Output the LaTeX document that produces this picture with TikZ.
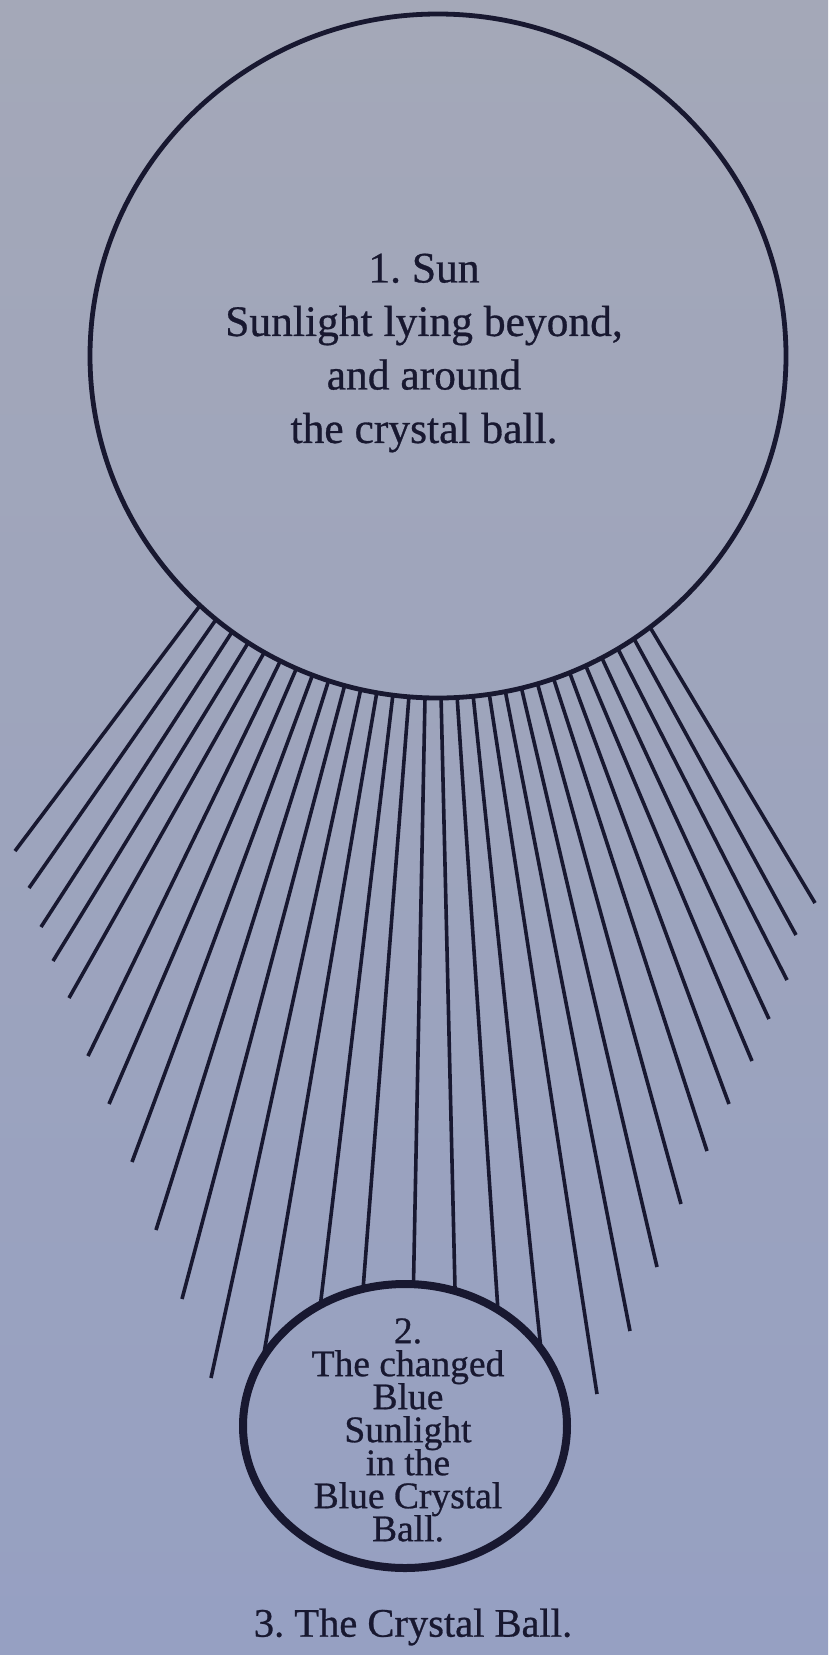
\documentclass[tikz,border=0pt]{standalone}
\usepackage{fontspec}
\setmainfont{Liberation Serif}
\newfontfamily\inkfont{Liberation Serif}[FakeBold=0.7]
\definecolor{bgtop}{RGB}{164,168,184}
\definecolor{bgbot}{RGB}{150,160,194}
\definecolor{ink}{RGB}{24,24,48}
\begin{document}
\frenchspacing
\begin{tikzpicture}[x=1pt,y=-1pt,line cap=butt,
  ray/.style={draw=ink,line width=3.6pt},
  bigball/.style={draw=ink,line width=4.8pt},
  smallball/.style={draw=ink,line width=8pt},
  lbl/.style={text=ink,align=center,inner sep=0pt}]
\shade[top color=bgtop,bottom color=bgbot] (0,0) rectangle (828,1655);
\useasboundingbox (0,0) rectangle (828,1655);
% free rays
\foreach \i/\bx/\by in {0/15/851,1/29/888,2/41/927,3/53/961,4/69/998,5/88/1056,
  6/109/1104,7/132/1162,8/156/1230,9/182/1299,10/211/1378,
  18/597/1394,19/630/1331,20/657/1267,21/681/1204,22/707/1151,23/729/1104,
  24/752/1061,25/769/1019,26/787/980,27/796/935,28/815/903} {
  \pgfmathsetmacro\tx{200+450/28*\i}
  \pgfmathsetmacro\tu{(\tx-438)/348}
  \pgfmathsetmacro\ty{356+342*sqrt(1-\tu*\tu)}
  \draw[ray] (\tx,\ty) -- (\bx,\by);
}
% rays meeting the small ball
\foreach \i/\ph in {11/151,12/121.5,13/105,14/87,15/72,16/55,17/33} {
  \pgfmathsetmacro\tx{200+450/28*\i}
  \pgfmathsetmacro\tu{(\tx-438)/348}
  \pgfmathsetmacro\ty{356+342*sqrt(1-\tu*\tu)}
  \draw[ray] (\tx,\ty) -- ({405+162*cos(\ph)},{1426-142*sin(\ph)});
}
\draw[bigball] (438,356) ellipse [x radius=348, y radius=342];
\draw[smallball] (405,1426) ellipse [x radius=162, y radius=142];
\node[lbl,font={\inkfont\fontsize{43.5}{53.5}\selectfont}] (suntext) at (424,353)
  {1. Sun\\Sunlight lying beyond,\\and around\\the crystal ball.};
\node[lbl,font={\inkfont\fontsize{37.5}{33}\selectfont\lineskiplimit=-50pt}] (balltext) at (408,1430)
  {2.\\The changed\\Blue\\Sunlight\\in the\\Blue Crystal\\Ball.};
\node[lbl,font={\inkfont\fontsize{40.5}{50}\selectfont}] (caption) at (413,1627)
  {3. The Crystal Ball.};
\end{tikzpicture}
\end{document}
